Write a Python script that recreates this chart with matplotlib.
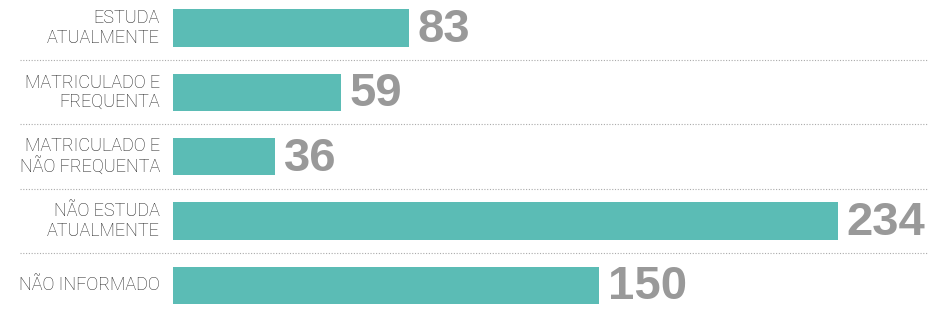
import matplotlib.pyplot as plt

categories = ["ESTUDA\nATUALMENTE", "MATRICULADO E\nFREQUENTA", "MATRICULADO E\nNÃO FREQUENTA",
              "NÃO ESTUDA\nATUALMENTE", "NÃO INFORMADO"]
values = [83, 59, 36, 234, 150]

bar_color = "#5bbcb5"
num_color = "#999999"

fig = plt.figure(figsize=(9.5, 3.16), dpi=100, facecolor="white")
ax = fig.add_axes([0, 0, 1, 1])
ax.set_xlim(-60.87, 273.4)
ax.set_ylim(4.48, -0.436)
ax.axis("off")

pos = list(range(len(values)))
ax.barh(pos, values, height=0.58, color=bar_color)

for i, (cat, v) in enumerate(zip(categories, values)):
    ax.annotate(cat, (0, i), xytext=(-9.5, 0), textcoords="offset points",
                ha="right", va="center", fontsize=13, color="#222222",
                family="Roboto", weight="light", linespacing=1.1)
    ax.annotate(str(v), (v, i), xytext=(6, -1.5), textcoords="offset points",
                ha="left", va="center", fontsize=34, color=num_color,
                family="Liberation Sans", weight="bold")

for i in range(len(values) - 1):
    ax.axhline(i + 0.5, xmin=20 / 950, xmax=927 / 950, color="#aaaaaa",
               linewidth=0.8, linestyle=(0, (1, 1.5)))

fig.savefig("out.png", dpi=100, facecolor="white")
